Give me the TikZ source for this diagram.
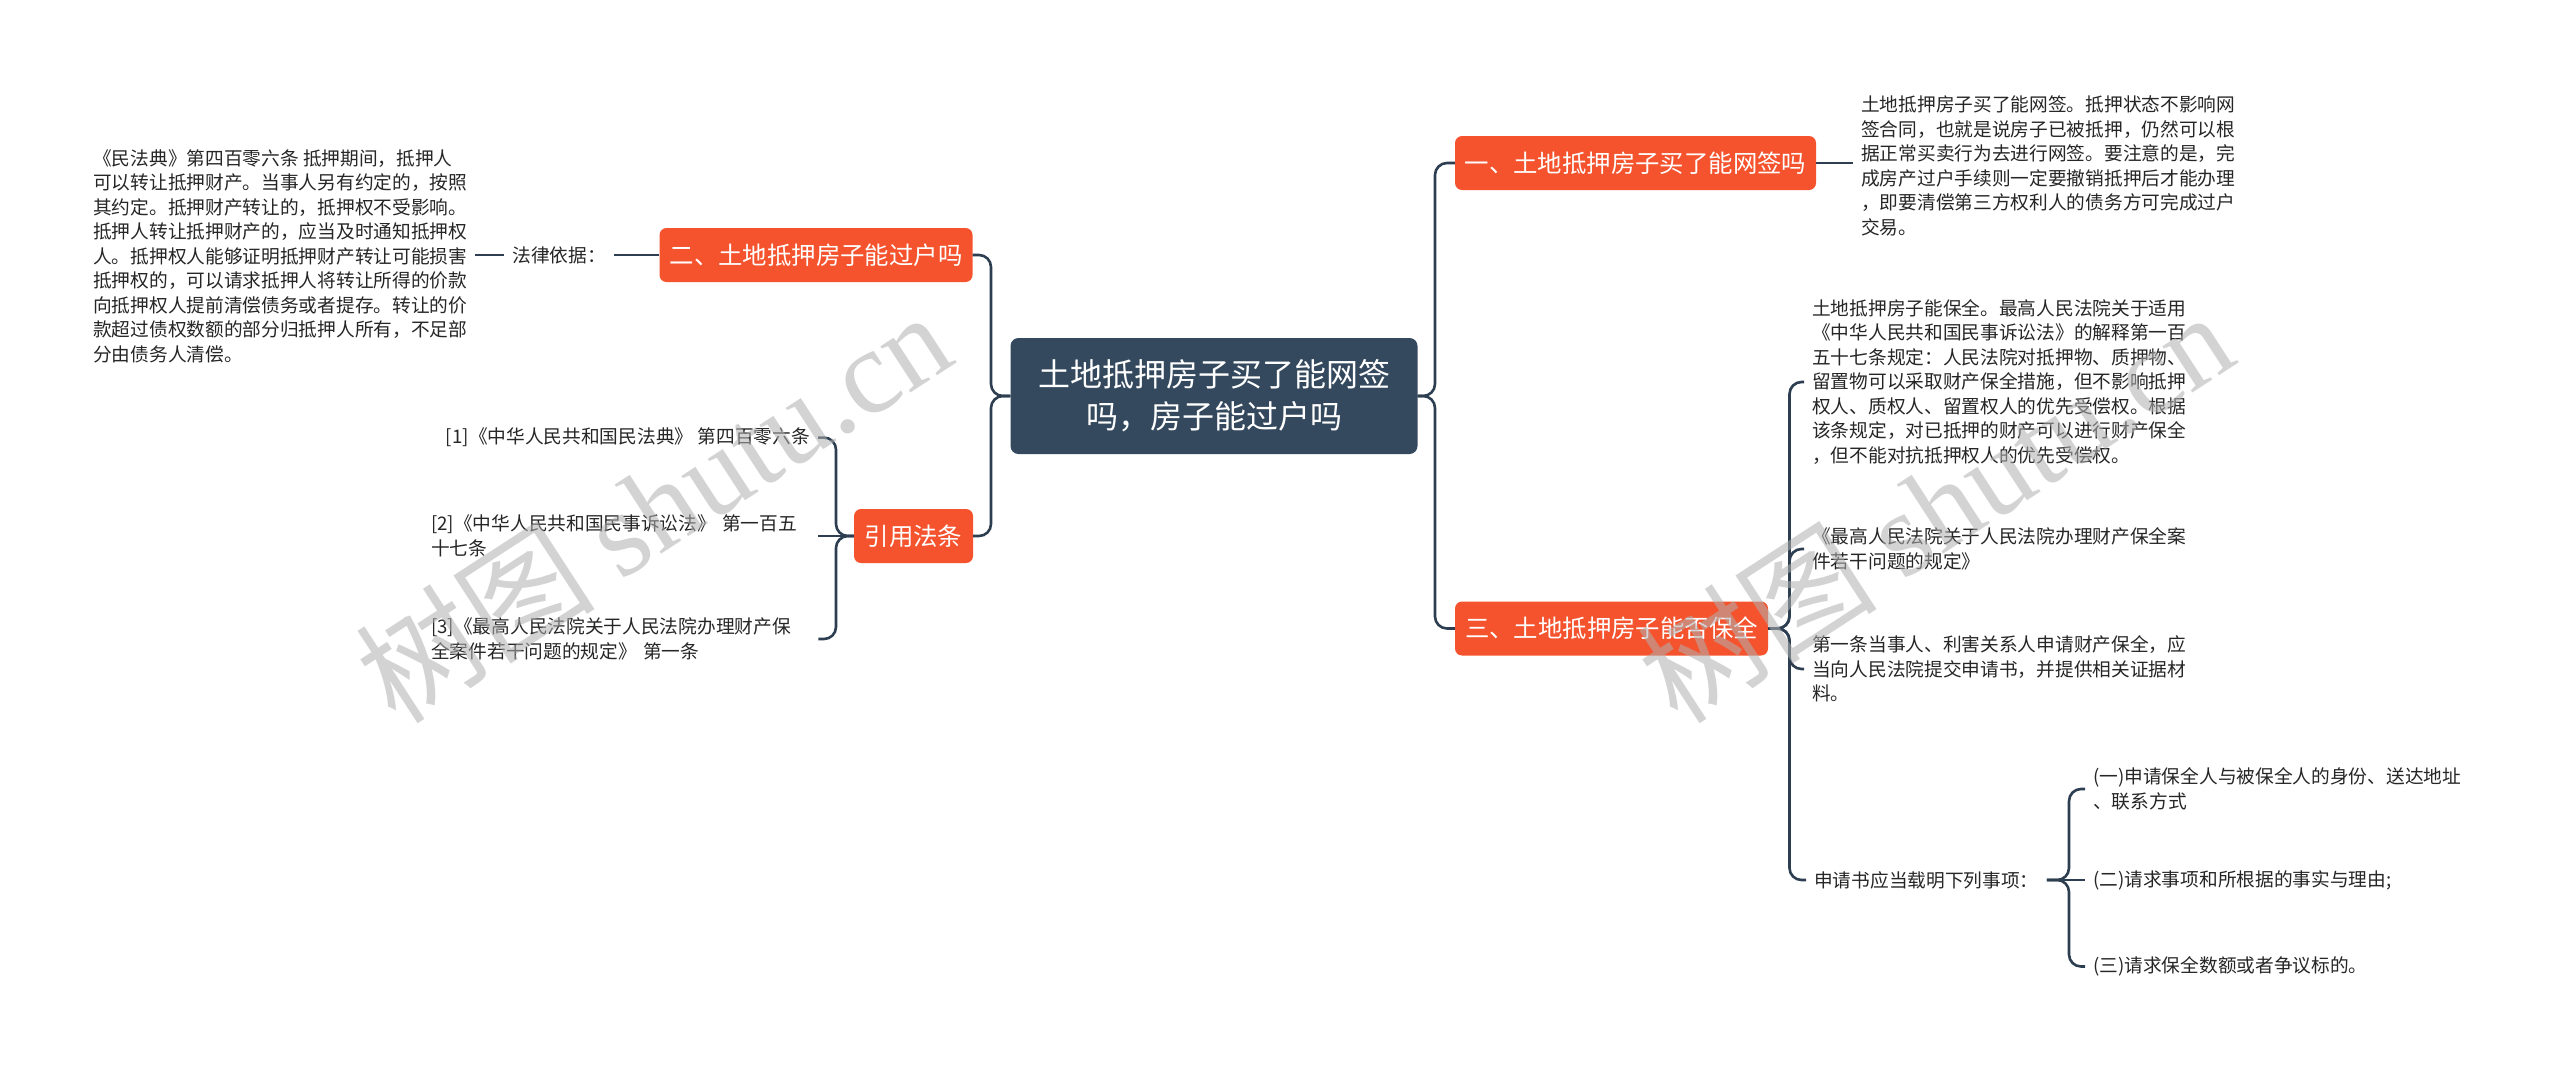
\documentclass[tikz,border=0pt]{standalone}
\usepackage{fontspec}
\setmainfont{Noto Sans CJK SC}
\newfontfamily\wmlat{Liberation Serif}
\usetikzlibrary{calc}
\definecolor{orangeA}{HTML}{F5532D}
\definecolor{slateA}{HTML}{34495E}
\definecolor{lineA}{HTML}{2C3E50}
\definecolor{txtA}{HTML}{262626}
\definecolor{wmA}{HTML}{B0B0B0}
\begin{document}
\begin{tikzpicture}[x=1pt,y=-1pt,
  conn/.style={draw=lineA, line width=2.6pt, rounded corners=12pt},
  rootnode/.style={fill=slateA, text=white, rounded corners=8pt, minimum width=407pt, minimum height=116pt, align=center, font=\fontsize{32}{42}\selectfont, inner sep=0pt},
  topic/.style={fill=orangeA, text=white, rounded corners=7pt, minimum height=54pt, inner sep=0pt, font=\fontsize{24.4}{30}\selectfont},
  leaf/.style={text=txtA, align=left, inner xsep=8pt, inner ysep=0pt, font=\fontsize{18.7}{24.5}\selectfont},
  wm/.style={text=wmA, opacity=0.55, rotate=33, font=\fontsize{120}{120}\selectfont}
]
\fill[white] (0,0) rectangle (2560,1069);
\useasboundingbox (0,0) rectangle (2560,1069);

% central and main topics
\node[rootnode] (root) at (1214,396) {土地抵押房子买了能网签\\吗，房子能过户吗};
\node[topic, minimum width=361pt] (n1) at (1635.5,163) {一、土地抵押房子买了能网签吗};
\node[topic, minimum width=313pt] (n2) at (816,255) {二、土地抵押房子能过户吗};
\node[topic, minimum width=313pt] (n3) at (1611.5,628.5) {三、土地抵押房子能否保全};
\node[topic, minimum width=119pt] (n5) at (913.5,536) {引用法条};

% branch one
\node[leaf, anchor=west] (d1) at (1853,166) {土地抵押房子买了能网签。抵押状态不影响网\\签合同，也就是说房子已被抵押，仍然可以根\\据正常买卖行为去进行网签。要注意的是，完\\成房产过户手续则一定要撤销抵押后才能办理\\，即要清偿第三方权利人的债务方可完成过户\\交易。};

% branch two
\node[leaf, anchor=east] (law) at (614,255) {法律依据：};
\node[leaf, anchor=west] (d2) at (85,256) {《民法典》第四百零六条 抵押期间，抵押人\\可以转让抵押财产。当事人另有约定的，按照\\其约定。抵押财产转让的，抵押权不受影响。\\抵押人转让抵押财产的，应当及时通知抵押权\\人。抵押权人能够证明抵押财产转让可能损害\\抵押权的，可以请求抵押人将转让所得的价款\\向抵押权人提前清偿债务或者提存。转让的价\\款超过债权数额的部分归抵押人所有，不足部\\分由债务人清偿。};

% references
\node[leaf, anchor=east] (k1) at (818,437.6) {[1]《中华人民共和国民法典》 第四百零六条};
\node[leaf, anchor=west, text width=379pt] (k2) at (423,536) {[2]《中华人民共和国民事诉讼法》 第一百五\\十七条};
\node[leaf, anchor=west, text width=379pt] (k3) at (423,639) {[3]《最高人民法院关于人民法院办理财产保\\全案件若干问题的规定》 第一条};

% branch three
\node[leaf, anchor=west] (c1) at (1804,382) {土地抵押房子能保全。最高人民法院关于适用\\《中华人民共和国民事诉讼法》的解释第一百\\五十七条规定：人民法院对抵押物、质押物、\\留置物可以采取财产保全措施，但不影响抵押\\权人、质权人、留置权人的优先受偿权。根据\\该条规定，对已抵押的财产可以进行财产保全\\，但不能对抗抵押权人的优先受偿权。};
\node[leaf, anchor=west] (c2) at (1804,549) {《最高人民法院关于人民法院办理财产保全案\\件若干问题的规定》};
\node[leaf, anchor=west] (c3) at (1804,669) {第一条当事人、利害关系人申请财产保全，应\\当向人民法院提交申请书，并提供相关证据材\\料。};
\node[leaf, anchor=west] (c4) at (1806,880) {申请书应当载明下列事项：};
\node[leaf, anchor=west] (g1) at (2085,789) {(一)申请保全人与被保全人的身份、送达地址\\、联系方式};
\node[leaf, anchor=west] (g2) at (2085,880) {(二)请求事项和所根据的事实与理由;};
\node[leaf, anchor=west] (g3) at (2085,966.5) {(三)请求保全数额或者争议标的。};

% trunk points
\coordinate (tL) at (991,396);
\coordinate (tR) at (1435,396);
\coordinate (tK) at (836,536);
\coordinate (t3) at (1789.5,628.5);
\coordinate (tG) at (2069,880);

% connectors
\draw[conn] (root.west) -- (tL) |- (n2.east);
\draw[conn] (root.west) -- (tL) |- (n5.east);
\draw[conn] (root.east) -- (tR) |- (n1.west);
\draw[conn] (root.east) -- (tR) |- (n3.west);
\draw[conn] (n1.east) -- (n1.east -| d1.west);
\draw[conn] (n2.west) -- (law.east);
\draw[conn] (law.west) -- (law.west -| d2.east);
\draw[conn] (n5.west) -- (tK) |- (k1.east);
\draw[conn] (n5.west) -- (k2.east);
\draw[conn] (n5.west) -- (tK) |- (k3.east);
\draw[conn] (n3.east) -- (t3) |- (c1.west);
\draw[conn] (n3.east) -- (t3) |- (c2.west);
\draw[conn] (n3.east) -- (t3) |- (c3.west);
\draw[conn] (n3.east) -- (t3) |- (c4.west);
\draw[conn] (c4.east) -- (tG) |- (g1.west);
\draw[conn] (c4.east) -- (g2.west);
\draw[conn] (c4.east) -- (tG) |- (g3.west);

% watermarks
\node[wm] (wm1) at (653,506) {树图 {\wmlat shutu.cn}};
\node[wm] (wm2) at (1935,506) {树图 {\wmlat shutu.cn}};
\end{tikzpicture}
\end{document}
